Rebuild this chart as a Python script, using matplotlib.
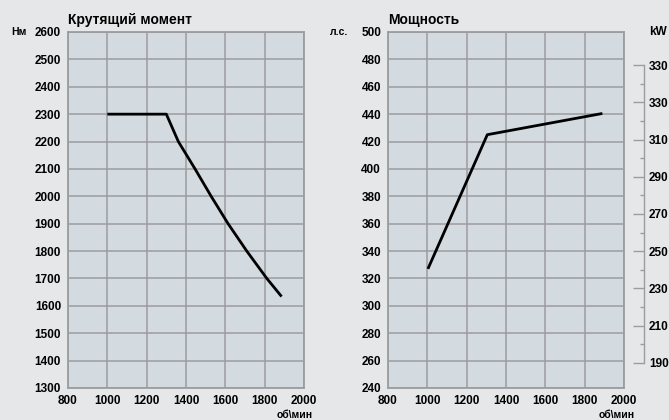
import matplotlib.pyplot as plt
from matplotlib.ticker import FixedLocator, FixedFormatter, MultipleLocator

plt.rcParams['font.family'] = ['Liberation Sans', 'DejaVu Sans']
plt.rcParams['font.weight'] = 'bold'

# Torque curve (Nm vs rpm)
torque_rpm = [1000, 1300, 1361, 1446, 1528, 1614, 1709, 1811, 1886]
torque_nm = [2300, 2300, 2200, 2100, 2000, 1900, 1800, 1700, 1634]

# Power curve (hp vs rpm)
power_rpm = [1003, 1305, 1890]
power_hp = [327, 425, 440.5]

# kW scale on the power chart (label "330" appears twice in the original)
kw_ticks = [190, 210, 230, 250, 270, 290, 310, 330, 350]
kw_labels = ['190', '210', '230', '250', '270', '290', '310', '330', '330']
HP_TO_KW = 0.7355

bg = '#e6e7e8'
face = '#d3dbe1'
grid_c = '#9b9c9e'

fig = plt.figure(figsize=(6.69, 4.2), dpi=100, facecolor=bg)
ax1 = fig.add_axes([68 / 669, 32 / 420, 236 / 669, 356 / 420])
ax2 = fig.add_axes([388 / 669, 32 / 420, 236 / 669, 356 / 420])


def style(ax, ylo, yhi, ystep):
    ax.set_facecolor(face)
    ax.set_xlim(800, 2000)
    ax.set_ylim(ylo, yhi)
    ax.xaxis.set_major_locator(MultipleLocator(200))
    ax.yaxis.set_major_locator(MultipleLocator(ystep))
    ax.grid(True, color=grid_c, linewidth=1.1)
    ax.set_axisbelow(True)
    for s in ax.spines.values():
        s.set_color(grid_c)
        s.set_linewidth(1.3)
    ax.tick_params(length=0, labelsize=8.5, pad=5)
    for lab in ax.get_xticklabels() + ax.get_yticklabels():
        lab.set_fontweight('bold')


style(ax1, 1300, 2600, 100)
style(ax2, 240, 500, 20)

ax1.plot(torque_rpm, torque_nm, color='black', linewidth=2, solid_capstyle='butt',
         solid_joinstyle='round', zorder=3)
ax2.plot(power_rpm, power_hp, color='black', linewidth=2, solid_capstyle='butt', zorder=3)

ax1.text(0, 1.033, 'Крутящий момент', transform=ax1.transAxes, fontsize=10,
         fontweight='bold', ha='left', va='center')
ax2.text(0, 1.033, 'Мощность', transform=ax2.transAxes, fontsize=10,
         fontweight='bold', ha='left', va='center')

fig.text(19 / 669, 1 - 32 / 420, 'Нм', fontsize=7.5, fontweight='bold', ha='center', va='center')
fig.text(339 / 669, 1 - 32 / 420, 'л.с.', fontsize=7.5, fontweight='bold', ha='center', va='center')
fig.text(658 / 669, 1 - 32 / 420, 'kW', fontsize=8.5, fontweight='bold', ha='center', va='center')
fig.text(313 / 669, 1 - 415 / 420, 'об\\мин', fontsize=7.5, fontweight='bold', ha='right', va='center')
fig.text(635 / 669, 1 - 415 / 420, 'об\\мин', fontsize=7.5, fontweight='bold', ha='right', va='center')

# secondary kW axis
ax3 = ax2.twinx()
ax3.set_ylim(240 * HP_TO_KW, 500 * HP_TO_KW)
for k in ['top', 'bottom', 'left']:
    ax3.spines[k].set_visible(False)
ax3.spines['right'].set_position(('axes', (643.5 - 388) / 236))
ax3.spines['right'].set_bounds(kw_ticks[0], kw_ticks[-1])
ax3.spines['right'].set_color(grid_c)
ax3.spines['right'].set_linewidth(1)
ax3.yaxis.set_major_locator(FixedLocator(kw_ticks))
ax3.yaxis.set_major_formatter(FixedFormatter(kw_labels))
ax3.yaxis.set_minor_locator(FixedLocator([t + 10 for t in kw_ticks[:-1]]))
ax3.tick_params(axis='y', which='major', direction='in', length=8, width=1,
                color=grid_c, labelsize=8.5, pad=4)
ax3.tick_params(axis='y', which='minor', direction='in', length=3, width=1, color=grid_c)
for lab in ax3.get_yticklabels():
    lab.set_fontweight('bold')

fig.savefig('out.png', dpi=100, facecolor=bg)
